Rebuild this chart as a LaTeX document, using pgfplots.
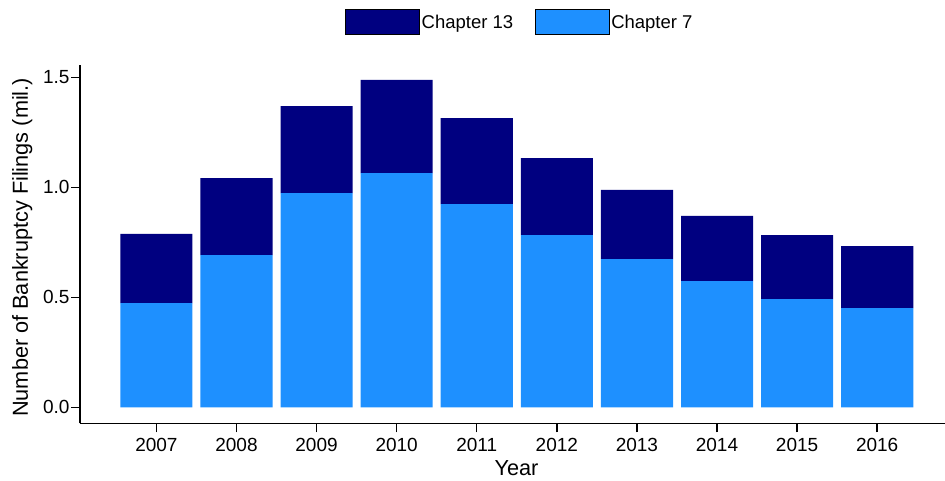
\documentclass[border=0pt]{standalone}
\usepackage{fontspec}
\setmainfont{Liberation Sans}
\usepackage{pgfplots}
\usepackage{pgfplotstable}
\pgfplotsset{compat=1.18}

\definecolor{chthirteen}{HTML}{000080}
\definecolor{chseven}{HTML}{1E90FF}

% filings in millions
\pgfplotstableread{
year ch7   ch13
2007 0.474 0.314
2008 0.692 0.350
2009 0.974 0.395
2010 1.065 0.423
2011 0.924 0.391
2012 0.783 0.350
2013 0.674 0.314
2014 0.574 0.296
2015 0.492 0.291
2016 0.451 0.282
}\filings

\begin{document}
\begin{tikzpicture}
\begin{axis}[
    scale only axis,
    width=865pt, height=358.3pt,
    xmin=2006.046, xmax=2016.846,
    ymin=-0.0727, ymax=1.5559,
    ybar stacked,
    bar width=0.9,
    axis x line*=bottom,
    axis y line*=left,
    axis line style={line width=1.4pt, -},
    tick style={line width=1.4pt, black},
    major tick length=9pt,
    tick align=outside,
    xtick={2007,...,2016},
    xticklabels={2007,2008,2009,2010,2011,2012,2013,2014,2015,2016},
    ytick={0,0.5,1,1.5},
    yticklabels={0.0,0.5,1.0,1.5},
    tick label style={font=\fontsize{19}{19}\selectfont},
    xticklabel style={yshift=-2.5pt},
    yticklabel style={xshift=2pt},
    /pgf/number format/assume math mode=true,
    every axis x label/.style={at={(axis description cs:0.5046,-0.1443)}, anchor=base,
        font=\fontsize{21.7}{21.7}\selectfont},
    every axis y label/.style={at={(axis description cs:-0.0603,0.491)}, rotate=90, anchor=base,
        font=\fontsize{21.7}{21.7}\selectfont},
    xlabel={Year},
    ylabel={Number of Bankruptcy Filings (mil.)},
    legend columns=2,
    reverse legend,
    legend cell align=left,
    legend image code/.code={
        \draw[#1, draw=black, line width=1pt] (0pt,-12.5pt) rectangle (74pt,12.5pt);
    },
    legend style={
        at={(axis description cs:0.3064,1.1555)},
        anchor=north west,
        draw=none, fill=none,
        inner sep=0pt,
        font=\fontsize{18.5}{18.5}\selectfont,
        nodes={inner sep=1.5pt},
        /tikz/every even column/.append style={column sep=20pt}
    },
]
\addplot[fill=chseven, draw=none] table[x=year, y=ch7] {\filings};
\addlegendentry{Chapter 7}
\addplot[fill=chthirteen, draw=none] table[x=year, y=ch13] {\filings};
\addlegendentry{Chapter 13}
\end{axis}
\pgfresetboundingbox
\path ([shift={(-80pt,-56.7pt)}]current axis.south west)
    rectangle ([shift={(0pt,65pt)}]current axis.north east);
\end{tikzpicture}
\end{document}
